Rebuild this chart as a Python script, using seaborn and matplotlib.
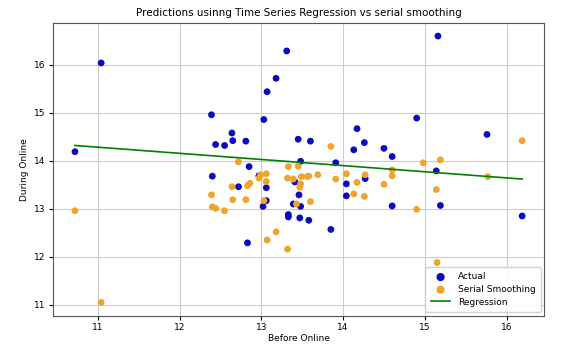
import matplotlib
matplotlib.use("Agg")
import matplotlib.pyplot as plt
import seaborn as sns
import pandas as pd

# Actual values (Before Online, During Online)
actual_before = [10.72, 11.04, 12.39, 12.40, 12.44, 12.55, 12.64, 12.65, 12.72, 12.81,
                 12.83, 12.85, 12.97, 13.02, 13.03, 13.06, 13.06, 13.07, 13.18, 13.31,
                 13.33, 13.33, 13.39, 13.41, 13.45, 13.46, 13.48, 13.48, 13.47, 13.58,
                 13.60, 13.85, 13.91, 14.04, 14.04, 14.13, 14.17, 14.26, 14.27, 14.50,
                 14.60, 14.60, 14.90, 15.14, 15.16, 15.19, 15.76, 16.19]
actual_during = [14.19, 16.04, 14.96, 13.68, 14.34, 14.32, 14.58, 14.42, 13.46, 14.41,
                 12.29, 13.88, 13.69, 13.05, 14.86, 13.44, 13.17, 15.44, 15.72, 16.29,
                 12.88, 12.83, 13.10, 13.56, 14.45, 13.29, 13.99, 13.05, 12.81, 12.76,
                 14.41, 12.57, 13.96, 13.52, 13.27, 14.23, 14.67, 14.38, 13.63, 14.26,
                 14.09, 13.06, 14.89, 13.79, 16.60, 13.07, 14.55, 12.85]

# Serial smoothing values
smooth_before = [10.72, 11.04, 12.39, 12.40, 12.44, 12.55, 12.64, 12.65, 12.72, 12.81,
                 12.83, 12.86, 12.97, 12.99, 13.03, 13.06, 13.06, 13.07, 13.18, 13.32,
                 13.33, 13.32, 13.39, 13.43, 13.45, 13.47, 13.49, 13.48, 13.56, 13.58,
                 13.60, 13.69, 13.85, 13.91, 14.04, 14.13, 14.17, 14.26, 14.27, 14.50,
                 14.60, 14.60, 14.90, 14.98, 15.14, 15.15, 15.19, 15.77, 16.19]
smooth_during = [12.96, 11.05, 13.29, 13.04, 13.01, 12.96, 13.46, 13.19, 13.98, 13.19,
                 13.48, 13.53, 13.64, 13.71, 13.17, 13.73, 13.57, 12.35, 12.52, 12.16,
                 13.88, 13.64, 13.62, 13.10, 13.89, 13.45, 13.67, 13.52, 13.67, 13.68,
                 13.15, 13.71, 14.30, 13.62, 13.73, 13.31, 13.55, 13.26, 13.71, 13.51,
                 13.81, 13.69, 12.99, 13.96, 13.40, 11.88, 14.02, 13.67, 14.42]

# Regression line
reg_before = [10.72, 16.19]
reg_during = [14.32, 13.62]

df_act = pd.DataFrame({"Before Online": actual_before, "During Online": actual_during})
df_sm = pd.DataFrame({"Before Online": smooth_before, "During Online": smooth_during})
df_reg = pd.DataFrame({"Before Online": reg_before, "During Online": reg_during})

plt.rcParams["font.family"] = ["DejaVu Sans"]
plt.rcParams["font.size"] = 7

fig = plt.figure(figsize=(5.66, 3.45), dpi=100)
ax = fig.add_axes([0.093, 0.085, 0.869, 0.849])

sns.scatterplot(data=df_act, x="Before Online", y="During Online", color="#0a0ac0",
                s=24, edgecolor="none", label="Actual", ax=ax, zorder=3)
sns.scatterplot(data=df_sm, x="Before Online", y="During Online", color="#efa52a",
                s=24, edgecolor="none", label="Serial Smoothing", ax=ax, zorder=3)
sns.lineplot(data=df_reg, x="Before Online", y="During Online", color="green",
             linewidth=1.2, label="Regression", ax=ax, zorder=4)

ax.grid(True, color="#cccccc", linewidth=0.8)
ax.set_axisbelow(True)
ax.set_title("Predictions usinng Time Series Regression vs serial smoothing", fontsize=7.5, pad=5)
ax.set_xlabel("Before Online", fontsize=6.5, labelpad=2)
ax.set_ylabel("During Online", fontsize=6.5, labelpad=4)
ax.tick_params(labelsize=6.5, pad=2, length=3)
for s in ax.spines.values():
    s.set_color("#555555")
    s.set_linewidth(0.8)
ax.legend(loc="lower right", fontsize=6.5, framealpha=0.9, borderpad=0.6,
          labelspacing=0.4, handlelength=2.2, borderaxespad=0.4, markerscale=1.2)

fig.savefig("out.png", dpi=100)
